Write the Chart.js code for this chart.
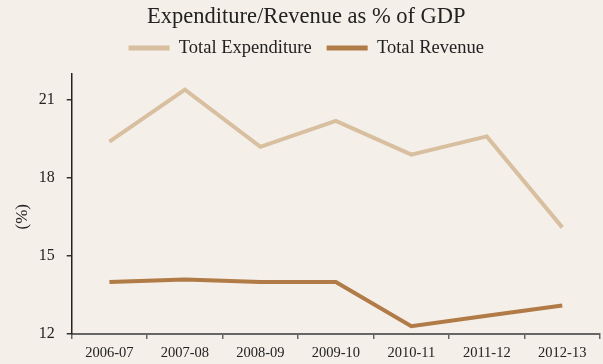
<!DOCTYPE html>
<html>
<head>
<meta charset="utf-8">
<title>Expenditure/Revenue as % of GDP</title>
<script src="https://cdn.jsdelivr.net/npm/chart.js@4/dist/chart.umd.min.js"></script>
<style>
    body { margin: 0; background: #f4efe8; }
    canvas { display: block; }
</style>
</head>
<body>
<canvas id="gdpChart" width="603" height="364"></canvas>
<script>
const years = ["2006-07", "2007-08", "2008-09", "2009-10", "2010-11", "2011-12", "2012-13"];
const totalExpenditure = [19.4, 21.4, 19.2, 20.2, 18.9, 19.6, 16.1];
const totalRevenue = [14.0, 14.1, 14.0, 14.0, 12.3, 12.7, 13.1];
const yTicks = [12, 15, 18, 21];

const textColor = "#222";
const serif = "'Liberation Serif', 'Times New Roman', Times, serif";

const ctx = document.getElementById("gdpChart").getContext("2d");

new Chart(ctx, {
    type: "line",
    data: {
        labels: years,
        datasets: [{
            label: "Total Expenditure",
            data: totalExpenditure,
            borderColor: "#d8bf9f",
            backgroundColor: "#d8bf9f",
            borderWidth: 4,
            pointRadius: 0,
            tension: 0
        }, {
            label: "Total Revenue",
            data: totalRevenue,
            borderColor: "#b07b47",
            backgroundColor: "#b07b47",
            borderWidth: 4,
            pointRadius: 0,
            tension: 0
        }]
    },
    options: {
        responsive: false,
        animation: false,
        layout: { padding: { left: 12.6, right: 3, top: 0, bottom: 0 } },
        plugins: {
            title: {
                display: true,
                text: "Expenditure/Revenue as % of GDP",
                color: textColor,
                font: { family: serif, size: 22.5, weight: "normal" },
                padding: { top: 3.5, bottom: -6.75 }
            },
            // empty spacer between the legend and the plot
            subtitle: {
                display: true,
                text: "",
                weight: 500,
                font: { size: 6.75, lineHeight: 1 },
                padding: 0
            },
            legend: {
                labels: {
                    boxWidth: 41,
                    boxHeight: 5,
                    padding: 15,
                    color: textColor,
                    font: { family: serif, size: 18.5 },
                    generateLabels: chart => chart.data.datasets.map((ds, i) => ({
                        text: ds.label,
                        fillStyle: ds.borderColor,
                        strokeStyle: ds.borderColor,
                        lineWidth: 0,
                        fontColor: textColor,
                        hidden: false,
                        datasetIndex: i
                    }))
                }
            },
            tooltip: { enabled: false }
        },
        scales: {
            x: {
                offset: true,
                afterFit: scale => { scale.height = 30; },
                grid: {
                    offset: true,
                    drawOnChartArea: false,
                    tickLength: 5,
                    color: "#666",
                    lineWidth: 1.5
                },
                border: { display: true, color: "#666", width: 2 },
                ticks: {
                    color: textColor,
                    padding: 5,
                    maxRotation: 0,
                    font: { family: serif, size: 14.5 }
                }
            },
            y: {
                min: 12,
                max: 22,
                afterFit: scale => { scale.width = 59.1; },
                afterBuildTicks: scale => {
                    scale.ticks = yTicks.map(v => ({ value: v }));
                },
                grid: {
                    drawOnChartArea: false,
                    tickLength: 5,
                    color: "#333",
                    lineWidth: 1.5
                },
                border: { display: true, color: "#222", width: 1.5 },
                ticks: {
                    color: textColor,
                    padding: 12,
                    font: { family: serif, size: 16 }
                },
                title: {
                    display: true,
                    text: "(%)      ",
                    color: textColor,
                    padding: { top: 0, bottom: 0 },
                    font: { family: serif, size: 17 }
                }
            }
        }
    }
});
</script>
</body>
</html>
